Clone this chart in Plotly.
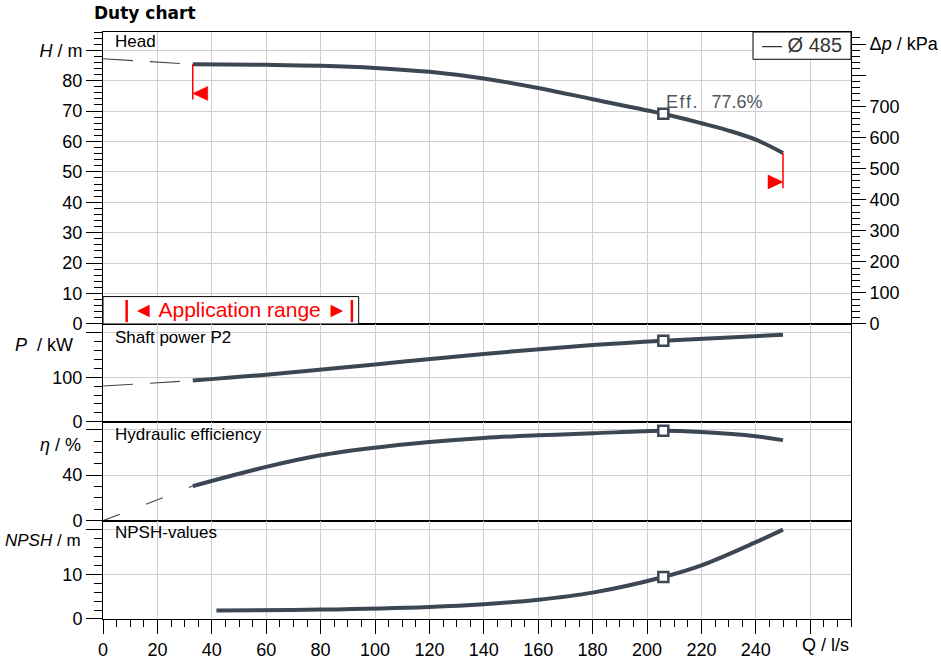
import plotly.graph_objects as go

# ---------------- data ----------------
Q_bep = 206
Q_min, Q_max = 33, 250

Q_head = [33, 60, 80, 100, 120, 140, 160, 180, 206, 220, 230, 240, 250]
H_head = [85.4, 85.2, 84.9, 84.2, 82.9, 80.7, 77.6, 73.9, 69.1, 66.0, 63.6, 60.6, 56.2]
Q_ext = [0, 33]
H_ext = [87.2, 85.4]

Q_pow = [33, 60, 100, 140, 180, 206, 250]
P_pow = [92.5, 105.8, 129.0, 152.5, 172.5, 182.5, 195.5]
P_ext = [80.4, 92.5]

Q_eff = [33, 60, 80, 100, 120, 140, 160, 180, 206, 220, 240, 250]
E_eff = [30.4, 47.3, 57.5, 64.2, 69.2, 72.7, 75.0, 76.8, 79.0, 77.9, 74.3, 70.8]
E_ext = [0, 30.4]

Q_npsh = [41.7, 80, 120, 140, 160, 180, 206, 220, 240, 250]
N_npsh = [1.9, 2.1, 2.7, 3.3, 4.3, 5.9, 9.4, 12.0, 17.2, 20.0]

H_bep, P_bep, E_bep, N_bep = 69.1, 182.5, 79.0, 9.4
H_min_mark = [85.4, 73.8]
H_max_mark = [56.2, 44.6]
tri_min_H, tri_max_H = 75.8, 46.7

app_range_Q = [8.7, 91.5]
eff_text = "E\u200af\u200af\u200a.\u2002 77.6%"
legend_text = "— Ø 485"

x_ticks = list(range(0, 261, 20))
x_ticktext = [str(v) for v in range(0, 241, 20)] + [""]
head_ticks = list(range(0, 91, 10))
head_ticktext = [str(v) for v in range(0, 81, 10)] + ["<i>H</i> / m"]
dp_ticks = list(range(0, 901, 100))
dp_ticktext = [str(v) for v in range(0, 701, 100)] + ["", "Δ<i>p</i> / kPa"]

KPA_PER_M = 9.78
H_TOP = 96

# ---------------- style ----------------
CURVE = "#3d4753"
FONT = "Liberation Sans, Arial, sans-serif"
GRID = "#cfcfcf"

fig = go.Figure()


def curve(x, y, xa, ya, solid=True, dash=None):
    fig.add_trace(go.Scatter(
        x=x, y=y, xaxis=xa, yaxis=ya, mode="lines",
        line=dict(color=CURVE, width=4 if solid else 1.1,
                  shape="spline" if solid else "linear",
                  dash=None if solid else dash),
        showlegend=False, hoverinfo="skip"))


def bep(y, xa, ya):
    fig.add_trace(go.Scatter(
        x=[Q_bep], y=[y], xaxis=xa, yaxis=ya, mode="markers",
        marker=dict(symbol="square", size=10, color="white",
                    line=dict(color=CURVE, width=2.5)),
        showlegend=False, hoverinfo="skip"))


# head
curve(Q_ext, H_ext, "x", "y", solid=False, dash="30px,17px")
curve(Q_head, H_head, "x", "y")
for q, hh in ((Q_min, H_min_mark), (Q_max, H_max_mark)):
    fig.add_trace(go.Scatter(x=[q, q], y=hh, xaxis="x", yaxis="y", mode="lines",
                             line=dict(color="red", width=1.5),
                             showlegend=False, hoverinfo="skip"))
bep(H_bep, "x", "y")
fig.add_trace(go.Scatter(x=[None], y=[None], xaxis="x", yaxis="y5",
                         showlegend=False, hoverinfo="skip"))
# power
curve(Q_ext, P_ext, "x2", "y2", solid=False, dash="30px,17px")
curve(Q_pow, P_pow, "x2", "y2")
bep(P_bep, "x2", "y2")
# efficiency
curve(Q_ext, E_ext, "x3", "y3", solid=False, dash="18px,28px")
curve(Q_eff, E_eff, "x3", "y3")
bep(E_bep, "x3", "y3")
# npsh
curve(Q_npsh, N_npsh, "x4", "y4")
bep(N_bep, "x4", "y4")

tickfont = dict(family=FONT, size=18, color="black")
common_y = dict(showline=True, linecolor="black", linewidth=1, mirror=True,
                showgrid=True, gridcolor=GRID, gridwidth=1, zeroline=False,
                ticks="outside", tickcolor="black", ticklen=16, tickwidth=1,
                tickmode="array", tickfont=tickfont, fixedrange=True,
                automargin=False)
common_x = dict(showline=True, linecolor="black", linewidth=1, mirror=True,
                showgrid=True, gridcolor=GRID, gridwidth=1, zeroline=False,
                range=[0, 275], tickmode="array", tickvals=x_ticks,
                fixedrange=True, automargin=False)

def minor(d, ln=8):
    return dict(ticks="outside", ticklen=ln, tickcolor="black", tickwidth=1,
                tickmode="linear", tick0=0, dtick=d, showgrid=False)

d_head = [0.5026, 1.0]
d_pow = [0.3361, 0.5026]
d_eff = [0.1675, 0.3361]
d_npsh = [0.0, 0.1675]

fig.update_layout(
    template="none",
    width=941, height=661,
    margin=dict(l=103, r=90, t=32, b=42, autoexpand=False),
    paper_bgcolor="white", plot_bgcolor="white",
    font=dict(family=FONT, size=17, color="black"),
    xaxis=dict(common_x, anchor="y", showticklabels=False, ticks=""),
    xaxis2=dict(common_x, anchor="y2", showticklabels=False, ticks=""),
    xaxis3=dict(common_x, anchor="y3", showticklabels=False, ticks=""),
    xaxis4=dict(common_x, anchor="y4", ticktext=x_ticktext, ticks="outside",
                ticklen=14, tickcolor="black", tickfont=tickfont,
                minor=minor(5, 7)),
    yaxis=dict(common_y, domain=d_head, anchor="x", range=[0, H_TOP],
               tickvals=head_ticks, ticktext=head_ticktext, minor=minor(2)),
    yaxis5=dict(overlaying="y", side="right", anchor="x",
                range=[0, H_TOP * KPA_PER_M], showgrid=False, zeroline=False,
                showline=True, linecolor="black", linewidth=1,
                ticks="outside", tickcolor="black", ticklen=14,
                tickmode="array", tickvals=dp_ticks, ticktext=dp_ticktext,
                tickfont=tickfont, minor=minor(20), fixedrange=True,
                automargin=False),
    yaxis2=dict(common_y, domain=d_pow, anchor="x2", range=[0, 220],
                tickvals=[0, 100, 200], ticktext=["0", "100", ""], minor=minor(20)),
    yaxis3=dict(common_y, domain=d_eff, anchor="x3", range=[0, 87],
                tickvals=[0, 40, 80], ticktext=["0", "40", ""], minor=minor(10)),
    yaxis4=dict(common_y, domain=d_npsh, anchor="x4", range=[0, 22],
                tickvals=[0, 10, 20], ticktext=["0", "10", ""], minor=minor(2)),
)

shapes = []
shapes.append(dict(type="rect", xref="x", yref="y", x0=0, x1=94, y0=0, y1=9,
                   fillcolor="white", line=dict(color="black", width=1), layer="above"))
for q in app_range_Q:
    shapes.append(dict(type="line", xref="x", yref="y", x0=q, x1=q, y0=0.6, y1=7.9,
                       line=dict(color="red", width=2.5)))
shapes.append(dict(type="rect", xref="paper", yref="paper", x0=0.869, x1=1.0,
                   y0=0.9535, y1=1.0, fillcolor="white",
                   line=dict(color="black", width=1), layer="above"))
shapes.append(dict(type="path", xref="x", yref="y", xsizemode="pixel", ysizemode="pixel",
                   xanchor=Q_min, yanchor=tri_min_H, path="M 15,7 L 0,0 L 15,-7 Z",
                   fillcolor="red", line=dict(color="red", width=0.5)))
shapes.append(dict(type="path", xref="x", yref="y", xsizemode="pixel", ysizemode="pixel",
                   xanchor=Q_max, yanchor=tri_max_H, path="M -15,7 L 0,0 L -15,-7 Z",
                   fillcolor="red", line=dict(color="red", width=0.5)))
fig.update_layout(shapes=shapes)

ann = []
def A(text, x, y, xanchor="left", yanchor="middle", xref="paper", yref="paper",
      size=17, color="black", family=FONT):
    ann.append(dict(text=text, x=x, y=y, xref=xref, yref=yref, xanchor=xanchor,
                    yanchor=yanchor, showarrow=False,
                    font=dict(family=family, size=size, color=color)))

A("<b>Duty chart</b>", -0.0147, 1.0324, family="DejaVu Sans, Verdana, sans-serif", size=17)
A("Head", 0.0134, 0.983)
A("Shaft power P2", 0.0134, 0.4804)
A("Hydraulic efficiency", 0.0134, 0.3135)
A("NPSH-values", 0.0134, 0.1482)
A("<i>P</i>  / kW", -0.0374, 0.4668, xanchor="right", size=18)
A("<i>η</i> / %", -0.0267, 0.2964, xanchor="right", size=18)
A("<i>NPSH</i> / m", -0.0267, 0.1329, xanchor="right", size=17)
A("Q / l/s", 1.0, -0.0443, xanchor="right", size=18)
A(eff_text, 206.3, 73.1, xref="x", yref="y", size=18, color="#505862")
A(legend_text, 0.9345, 0.978, xanchor="center", size=20, color="#333333")
A("◄ Application range ►", 50.5, 4.9, xref="x", yref="y", xanchor="center",
  size=21, color="red")
fig.update_layout(annotations=ann)

fig.write_html("out.html",
               config={"displayModeBar": False},
               post_script="document.body.style.margin='0';"
                           "document.body.style.overflow='hidden';")
